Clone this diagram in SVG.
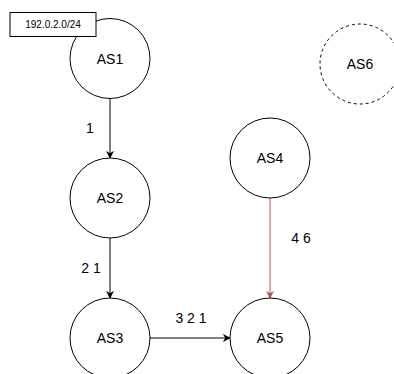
<svg xmlns="http://www.w3.org/2000/svg" width="394" height="374" viewBox="0 0 394 374">
  <style>
    .node { fill: #ffffff; stroke: #000000; stroke-width: 1; }
    .dashed { stroke-dasharray: 3 3; }
    .lbl { font-family: "Liberation Sans", Arial, sans-serif; font-size: 14px; fill: #000000; text-anchor: middle; dominant-baseline: central; }
    .small { font-size: 10px; }
    .edge { fill: none; stroke: #000000; stroke-width: 1; }
    .red { stroke: #b85450; }
  </style>
  <defs>
    <marker id="arrow" viewBox="0 0 10 10" refX="9" refY="5" markerWidth="8" markerHeight="8" markerUnits="userSpaceOnUse" orient="auto">
      <path d="M0,0 L10,5 L0,10 L3,5 Z" fill="#000000"/>
    </marker>
    <marker id="arrowRed" viewBox="0 0 10 10" refX="9" refY="5" markerWidth="8" markerHeight="8" markerUnits="userSpaceOnUse" orient="auto">
      <path d="M0,0 L10,5 L0,10 L3,5 Z" fill="#b85450"/>
    </marker>
  </defs>
  <rect width="394" height="374" fill="#ffffff"/>

  <g id="connectors">
    <line class="edge" x1="110" y1="98.5" x2="110" y2="158" marker-end="url(#arrow)"/>
    <line class="edge" x1="110" y1="238" x2="110" y2="298" marker-end="url(#arrow)"/>
    <line class="edge" x1="150" y1="338" x2="230" y2="338" marker-end="url(#arrow)"/>
    <line class="edge red" x1="270" y1="198" x2="270" y2="298" marker-end="url(#arrowRed)"/>
    <text class="lbl" x="90" y="128">1</text>
    <text class="lbl" x="91" y="268">2 1</text>
    <text class="lbl" x="191" y="318">3 2 1</text>
    <text class="lbl" x="301" y="238">4 6</text>
  </g>

  <g id="as1">
    <circle class="node" cx="110" cy="58.5" r="40"/>
    <text class="lbl" x="110" y="58.5">AS1</text>
  </g>
  <g id="prefix">
    <rect class="node" x="10" y="12.5" width="86" height="24"/>
    <text class="lbl small" x="53" y="24.5">192.0.2.0/24</text>
  </g>
  <g id="as2">
    <circle class="node" cx="110" cy="198" r="40"/>
    <text class="lbl" x="110" y="198">AS2</text>
  </g>
  <g id="as3">
    <circle class="node" cx="110" cy="338" r="40"/>
    <text class="lbl" x="110" y="338">AS3</text>
  </g>
  <g id="as4">
    <circle class="node" cx="270" cy="158" r="40"/>
    <text class="lbl" x="270" y="158">AS4</text>
  </g>
  <g id="as5">
    <circle class="node" cx="270" cy="338" r="40"/>
    <text class="lbl" x="270" y="338">AS5</text>
  </g>
  <g id="as6">
    <circle class="node dashed" cx="360" cy="64" r="40"/>
    <text class="lbl" x="360" y="64">AS6</text>
  </g>
</svg>
